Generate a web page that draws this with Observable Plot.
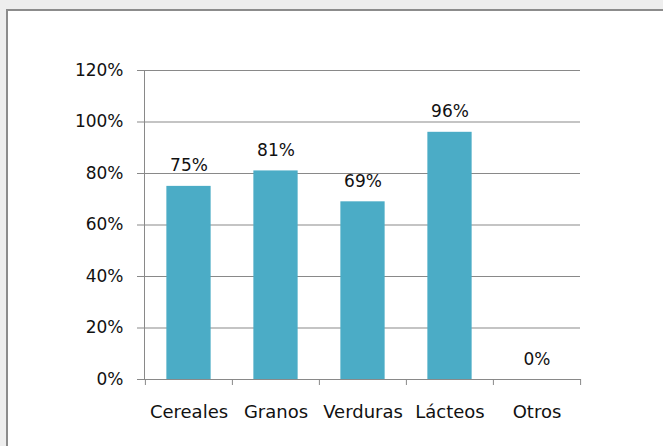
<!DOCTYPE html>
<html>
<head>
<meta charset="utf-8">
<script src="https://cdn.jsdelivr.net/npm/d3@7"></script>
<script src="https://cdn.jsdelivr.net/npm/@observablehq/plot@0.6"></script>
<style>
  html, body { margin: 0; padding: 0; width: 663px; height: 446px; overflow: hidden; background: #eeeeee; }
  #frame { position: absolute; left: 6px; top: 9px; width: 700px; height: 500px; background: #fff;
           border-left: 2px solid #8c8c8c; border-top: 2px solid #8c8c8c; }
  #chart { position: absolute; left: 0; top: 0; }
  #chart svg { background: transparent; }
</style>
</head>
<body>
<div id="frame"></div>
<div id="chart"></div>
<script>
const categories = ["Cereales", "Granos", "Verduras", "Lácteos", "Otros"];
const values = [0.75, 0.81, 0.69, 0.96, 0.0];
const yTicks = [0, 0.2, 0.4, 0.6, 0.8, 1.0, 1.2];

const data = categories.map((c, i) => ({cat: c, val: values[i]}));

const W = 663, H = 446;
const mL = 144, mR = 83, mT = 70, mB = 67;
const bw = (W - mL - mR) / categories.length;
const gray = "#898989";
const fmt = d3.format(".0%");

const chart = Plot.plot({
  width: W,
  height: H,
  marginLeft: mL,
  marginRight: mR,
  marginTop: mT,
  marginBottom: mB,
  style: {fontFamily: "'DejaVu Sans', sans-serif", fontSize: "17px", color: "#111", background: "transparent"},
  x: {domain: categories, padding: 0},
  y: {domain: [0, 1.2]},
  marks: [
    Plot.gridY(yTicks, {stroke: gray, strokeOpacity: 1, strokeWidth: 1}),
    Plot.axisY(yTicks, {tickSize: 7, tickPadding: 14, tickFormat: fmt, stroke: gray, strokeOpacity: 1, fill: "#111", label: null}),
    Plot.barY(data, {x: "cat", y: "val", fill: "#4BACC6", insetLeft: bw * 0.245, insetRight: bw * 0.245}),
    Plot.frame({anchor: "left", stroke: gray, strokeWidth: 1}),
    Plot.frame({anchor: "bottom", stroke: gray, strokeWidth: 1}),
    Plot.axisX({tickSize: 6, tickFormat: () => "", dx: -bw / 2, stroke: gray, strokeOpacity: 1, label: null}),
    Plot.axisX([categories[categories.length - 1]], {tickSize: 6, tickFormat: () => "", dx: bw / 2, stroke: gray, strokeOpacity: 1, label: null}),
    Plot.axisX({tickSize: 0, tickPadding: 26, fill: "#111", fontSize: 18, label: null}),
    Plot.text(data, {x: "cat", y: "val", text: d => fmt(d.val), lineAnchor: "bottom", dy: -15, fill: "#111"})
  ]
});
document.getElementById("chart").appendChild(chart);
</script>
</body>
</html>
